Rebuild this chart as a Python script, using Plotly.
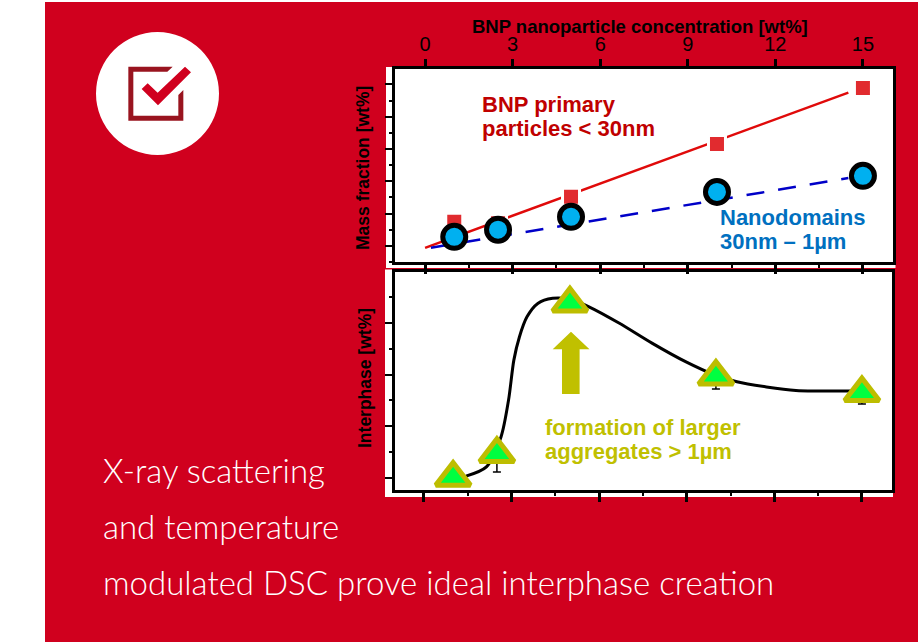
import plotly.graph_objects as go

# ---- data ----
concentration = [1, 2.5, 5, 10, 15]
primary_particles = [0.75, 0.70, 1.52, 3.16, 4.89]
nanodomains = [0.28, 0.50, 0.90, 1.67, 2.17]
primary_fit_x = [0, 14.5]
primary_fit_y = [-0.06, 4.75]
nano_fit_x = [0.2, 14.5]
nano_fit_y = [-0.06, 2.10]
interphase = [0.0, 0.46, 3.38, 1.96, 1.64]
interphase_err = [0.0, 0.35, 0.0, 0.24, 0.21]
curve_x = [1.44, 2.14, 2.64, 2.90, 3.08, 3.27, 3.53, 3.90, 4.41, 5.0, 5.67, 6.68,
           7.81, 8.96, 9.97, 10.72, 11.73, 12.74, 13.49, 15.0]
curve_y = [0.03, 0.21, 0.79, 1.51, 2.28, 2.73, 3.12, 3.38, 3.48, 3.46, 3.31, 3.00,
           2.61, 2.25, 1.99, 1.86, 1.76, 1.69, 1.68, 1.68]
x_ticks = [0, 3, 6, 9, 12, 15]

W, H = 918, 642
RED = "#D0001E"
OLIVE = "#C0C000"
BOLD = "Liberation Sans"


def px(x):
    return x / W


def py(y):
    return 1 - y / H


def path(points):
    return "M" + " L".join(f"{px(a):.5f},{py(b):.5f}" for a, b in points) + " Z"


def rect(x0, y0, x1, y1, color):
    return dict(type="rect", xref="paper", yref="paper", x0=px(x0), x1=px(x1), y0=py(y1), y1=py(y0),
                fillcolor=color, line_width=0, layer="below")


def zoomed(points):
    return [(a / 3 + 80, b / 3 + 20) for a, b in points]


shapes = [
    rect(45, 2, 918, 642, RED),
    rect(386, 67, 895.5, 268, "white"),
    rect(385, 269.5, 893, 497, "white"),
    dict(type="circle", xref="paper", yref="paper", x0=px(96), x1=px(219), y0=py(155), y1=py(32),
         fillcolor="white", line_width=0, layer="below"),
    dict(type="path", xref="paper", yref="paper", layer="below", line_width=0, fillcolor="#99141F",
         path=path(zoomed([(145, 140), (278, 140), (262, 155), (160, 155), (160, 287), (295, 287),
                           (295, 225), (310, 210), (310, 302), (145, 302)]))),
    dict(type="path", xref="paper", yref="paper", layer="below", line_width=0, fillcolor=RED,
         path=path(zoomed([(185, 207), (203, 190), (233, 218), (315, 140), (333, 157), (234, 256)]))),
    dict(type="path", xref="paper", yref="paper", layer="above", line_width=0, fillcolor=OLIVE,
         path=path([(571, 331.7), (589.5, 349.3), (579.6, 349.3), (579.6, 394), (562, 394),
                    (562, 349.3), (552.7, 349.3)])),
]

fig = go.Figure()

# top panel
fig.add_trace(go.Scatter(x=primary_fit_x, y=primary_fit_y, mode="lines",
                         line=dict(color="#E00A0A", width=2.5), xaxis="x", yaxis="y"))
fig.add_trace(go.Scatter(x=nano_fit_x, y=nano_fit_y, mode="lines",
                         line=dict(color="#0000C8", width=2.5, dash="18px,14px"), xaxis="x", yaxis="y"))
fig.add_trace(go.Scatter(x=concentration, y=primary_particles, mode="markers",
                         marker=dict(symbol="square", size=17, color="#E12B2F",
                                     line=dict(color="white", width=3)), xaxis="x", yaxis="y"))
fig.add_trace(go.Scatter(x=concentration, y=nanodomains, mode="markers",
                         marker=dict(symbol="circle", size=23, color="#00B0F0",
                                     line=dict(color="black", width=5)), xaxis="x", yaxis="y"))
# invisible trace that activates the labelled top axis
fig.add_trace(go.Scatter(x=concentration, y=nanodomains, mode="markers", marker=dict(opacity=0),
                         xaxis="x3", yaxis="y", hoverinfo="skip"))

# bottom panel
fig.add_trace(go.Scatter(x=curve_x, y=curve_y, mode="lines",
                         line=dict(color="black", width=3, shape="spline", smoothing=0.8),
                         xaxis="x2", yaxis="y2"))
fig.add_trace(go.Scatter(x=concentration, y=interphase, mode="markers",
                         marker=dict(symbol="triangle-up", size=30, color="#00FF40",
                                     line=dict(color="#BDBD00", width=5)),
                         error_y=dict(type="data", symmetric=False, array=[0] * 5,
                                      arrayminus=interphase_err, color="black", thickness=1.5, width=4),
                         xaxis="x2", yaxis="y2"))


def label(text, x, y, size, color="black", angle=0, family=BOLD, bold=True, anchor="left", weight=None):
    font = dict(family=family, size=size, color=color)
    if weight:
        font["weight"] = weight
    fig.add_annotation(text=f"<b>{text}</b>" if bold else text, xref="paper", yref="paper",
                       x=px(x), y=py(y), xanchor=anchor, yanchor="middle", showarrow=False,
                       textangle=angle, font=font, borderpad=0, borderwidth=0)


label("BNP nanoparticle concentration [wt%]", 639.5, 27, 18.5, anchor="center")
label("Mass fraction [wt%]", 363, 168, 17.5, angle=-90, anchor="center")
label("Interphase [wt%]", 365, 378, 17.5, angle=-90, anchor="center")
label("BNP primary", 482, 105, 22, color="#C00000")
label("particles &lt; 30nm", 482, 128, 22, color="#C00000")
label("Nanodomains", 720, 218, 22, color="#0070C0")
label("30nm – 1µm", 720, 241, 22, color="#0070C0")
label("formation of larger", 545, 427, 22, color=OLIVE)
label("aggregates &gt; 1µm", 545, 451, 22, color=OLIVE)
label("X-ray scattering", 103, 470, 33, color="white", family="Lato", bold=False, weight=300)
label("and temperature", 103, 526, 33, color="white", family="Lato", bold=False, weight=300)
label("modulated DSC prove ideal interphase creation", 103, 582, 33, color="white",
      family="Lato", bold=False, weight=300)

frame = dict(showline=True, linecolor="black", linewidth=3, mirror=True, showgrid=False, zeroline=False)
minor_ticks = dict(ticks="outside", ticklen=3, tickwidth=1.5, tickcolor="black", showgrid=False)

fig.update_layout(
    width=W, height=H, autosize=False, margin=dict(l=0, r=0, t=0, b=0),
    paper_bgcolor="white", plot_bgcolor="rgba(0,0,0,0)", showlegend=False, shapes=shapes,
    xaxis=dict(domain=[px(395), px(893)], range=[-1.03, 16.03], anchor="y", side="bottom",
               tickvals=x_ticks, showticklabels=False, ticks="outside", ticklen=9, tickwidth=3,
               tickcolor="black", minor=dict(dtick=1.5, tick0=0, **minor_ticks), **frame),
    xaxis3=dict(overlaying="x", matches="x", side="top", anchor="y", tickvals=x_ticks,
                ticktext=[str(v) for v in x_ticks], ticks="outside", ticklen=9, tickwidth=3,
                tickcolor="black", showgrid=False, zeroline=False,
                tickfont=dict(family=BOLD, size=20, color="black")),
    yaxis=dict(domain=[py(262), py(69)], range=[-0.5, 5.48], anchor="x", tickvals=[0, 1, 2, 3, 4, 5],
               showticklabels=False, ticks="outside", ticklen=7, tickwidth=1.5, tickcolor="black",
               minor=dict(dtick=0.5, tick0=0, **minor_ticks), **frame),
    xaxis2=dict(domain=[px(395), px(892)], range=[-0.99, 16.03], anchor="y2", side="bottom",
                tickvals=x_ticks, showticklabels=False, ticks="outside", ticklen=9, tickwidth=3,
                tickcolor="black", minor=dict(dtick=1.5, tick0=0, **minor_ticks), **frame),
    yaxis2=dict(domain=[py(490), py(272)], range=[-0.24, 3.99], anchor="x2", tickvals=[0, 1, 2, 3],
                showticklabels=False, ticks="outside", ticklen=7, tickwidth=1.5, tickcolor="black",
                minor=dict(dtick=0.5, tick0=0, **minor_ticks), **frame),
)

fig.write_html("out.html", post_script="document.body.style.margin='0';document.body.style.overflow='hidden';",
               config={"displayModeBar": False})
